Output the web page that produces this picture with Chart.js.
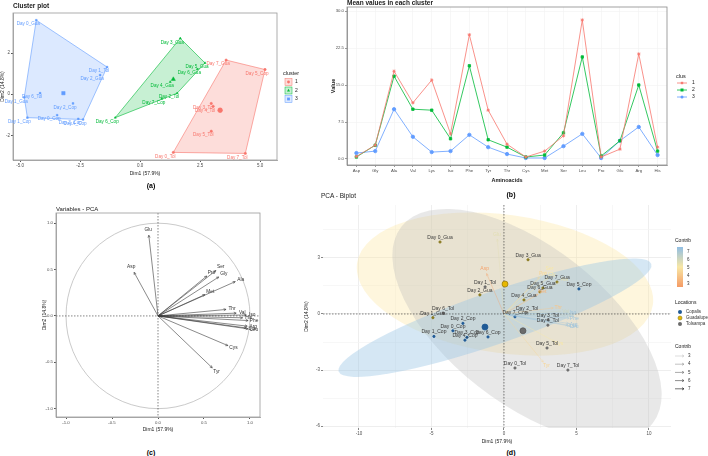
<!DOCTYPE html>
<html>
<head>
<meta charset="utf-8">
<script src="https://cdn.jsdelivr.net/npm/chart.js@4.4.1/dist/chart.umd.min.js"></script>
<style>
  html, body { margin: 0; padding: 0; background: #fff; }
  body { width: 708px; height: 456px; position: relative; overflow: hidden; font-family: "Liberation Sans", Arial, sans-serif; }
  canvas { position: absolute; }
  .t { position: absolute; white-space: nowrap; color: #1a1a1a; line-height: 1; }
  .tag { position: absolute; font-weight: bold; font-size: 7px; transform: translate(-50%, -50%); }
</style>
</head>
<body>
<canvas id="chartA" width="310" height="177" style="left:0;top:0"></canvas>
<canvas id="chartB" width="382" height="184" style="left:326px;top:0"></canvas>
<canvas id="chartC" width="229" height="228" style="left:36px;top:205px"></canvas>
<canvas id="chartD" width="408" height="245" style="left:300px;top:200px"></canvas>

<div class="t" style="left:13px;top:3px;font-size:6.5px;font-weight:bold">Cluster plot</div>
<div class="t" style="left:347px;top:0;font-size:6.5px;font-weight:bold">Mean values in each cluster</div>
<div class="t" style="left:56px;top:206px;font-size:6px">Variables - PCA</div>
<div class="t" style="left:321px;top:193px;font-size:6.5px">PCA - Biplot</div>
<div class="tag" style="left:151px;top:185px">(a)</div>
<div class="tag" style="left:511px;top:194px">(b)</div>
<div class="tag" style="left:151px;top:452px">(c)</div>
<div class="tag" style="left:511px;top:452px">(d)</div>

<script>
// ---- (a) cluster plot: individuals on Dim1/Dim2, by k-means cluster
const c1Names = ['Day 7_Gua', 'Day 5_Cop', 'Day 3_Tol', 'Day 4_Tol', 'Day 5_Tol', 'Day 0_Tol', 'Day 7_Tol'];
const c1Dim1 = [3.58, 5.20, 2.96, 3.04, 2.96, 1.38, 4.38];
const c1Dim2 = [1.66, 1.20, -0.45, -0.59, -1.80, -2.83, -2.88];
const c2Names = ['Day 3_Gua', 'Day 5_Gua', 'Day 6_Gua', 'Day 4_Gua', 'Day 2_Tol', 'Day 7_Cop', 'Day 6_Cop'];
const c2Dim1 = [1.67, 2.70, 2.38, 1.25, 1.54, 0.90, -1.04];
const c2Dim2 = [2.72, 1.52, 1.22, 0.60, 0.05, -0.22, -1.14];
const c3Names = ['Day 0_Gua', 'Day 1_Tol', 'Day 2_Gua', 'Day 6_Tol', 'Day 1_Gua', 'Day 2_Cop', 'Day 0_Cop', 'Day 3_Cop', 'Day 1_Cop', 'Day 4_Cop'];
const c3Dim1 = [-4.33, -1.38, -1.67, -4.17, -4.83, -2.80, -3.46, -2.58, -4.70, -2.38];
const c3Dim2 = [3.60, 1.32, 0.93, 0.05, -0.15, -0.45, -1.02, -1.20, -1.14, -1.23];
const clusterCenterDim1 = [3.33, 1.38, -3.20];
const clusterCenterDim2 = [-0.78, 0.73, 0.05];

// ---- (b) mean values per cluster
const aminoAcids = ['Asp', 'Gly', 'Ala', 'Val', 'Lys', 'Iso', 'Phe', 'Tyr', 'Thr', 'Cys', 'Met', 'Ser', 'Leu', 'Pro', 'Glu', 'Arg', 'His'];
const clus1Means = [0.5, 2.8, 17.8, 11.4, 16.0, 5.1, 25.2, 9.9, 3.0, 0.4, 1.6, 4.7, 28.2, 0.4, 2.0, 21.3, 2.4];
const clus2Means = [0.4, 2.8, 16.8, 10.1, 9.9, 4.1, 18.9, 3.9, 2.4, 0.4, 0.8, 5.3, 20.7, 0.6, 3.7, 15.0, 1.6];
const clus3Means = [1.2, 1.6, 10.1, 4.5, 1.4, 1.6, 4.9, 2.4, 1.0, 0.2, 0.2, 2.6, 5.1, 0.2, 3.7, 6.5, 0.8];

// ---- (c) variable loadings
const pcaVars = ['Glu', 'Asp', 'Ser', 'Pro', 'Gly', 'Ala', 'Met', 'Thr', 'Val', 'Iso', 'His', 'Phe', 'Arg', 'Lys', 'Leu', 'Cys', 'Tyr'];
const loadDim1 = [-0.10, -0.26, 0.63, 0.53, 0.66, 0.84, 0.51, 0.74, 0.85, 0.96, 0.92, 0.98, 0.97, 0.96, 0.98, 0.76, 0.59];
const loadDim2 = [0.87, 0.47, 0.49, 0.43, 0.42, 0.37, 0.23, 0.07, 0.03, 0.01, -0.02, -0.05, -0.11, -0.13, -0.14, -0.32, -0.56];
const varContrib = [5.5, 3, 5, 4.5, 5, 5.5, 3.5, 4, 6, 7, 6.5, 7, 7, 7, 7, 5, 4.5];

// ---- (d) biplot individuals by location
const copNames = ['Day 0_Cop', 'Day 1_Cop', 'Day 2_Cop', 'Day 3_Cop', 'Day 4_Cop', 'Day 5_Cop', 'Day 6_Cop', 'Day 7_Cop'];
const copDim1 = [-3.52, -4.83, -2.83, -2.55, -2.69, 5.17, -1.10, 0.76];
const copDim2 = [-0.90, -1.20, -0.50, -1.25, -1.40, 1.34, -1.23, -0.15];
const guaNames = ['Day 0_Gua', 'Day 1_Gua', 'Day 2_Gua', 'Day 3_Gua', 'Day 4_Gua', 'Day 5_Gua', 'Day 6_Gua', 'Day 7_Gua'];
const guaDim1 = [-4.41, -4.90, -1.66, 1.66, 1.38, 2.69, 2.48, 3.66];
const guaDim2 = [3.85, -0.20, 1.02, 2.90, 0.75, 1.39, 1.18, 1.71];
const tolNames = ['Day 0_Tol', 'Day 1_Tol', 'Day 2_Tol', 'Day 3_Tol', 'Day 4_Tol', 'Day 5_Tol', 'Day 6_Tol', 'Day 7_Tol'];
const tolDim1 = [0.76, -1.30, 1.59, 3.03, 3.03, 2.97, -4.20, 4.41];
const tolDim2 = [-2.89, 1.45, 0.05, -0.32, -0.60, -1.82, 0.05, -3.00];
const locations = ['Copalis', 'Guadalupe', 'Tolsampa'];
const locationDim1 = [-1.31, 0.07, 1.31];
const locationDim2 = [-0.70, 1.60, -0.90];
// concentration ellipses: centre, semi axes (data units), tilt on screen (deg)
const ellipseDim1 = [0.07, 1.59, -0.62];
const ellipseDim2 = [1.60, -0.59, -0.20];
const ellipseA = [10.3, 11.0, 11.4];
const ellipseB = [3.7, 4.2, 1.4];
const ellipseTilt = [8, 38, -19];
const contribTicks = [7, 6, 5, 4, 3];

const FONT = '"Liberation Sans", Arial, sans-serif';
Chart.defaults.font.family = FONT;
Chart.defaults.color = '#4d4d4d';

const clusterColors = ['#F8766D', '#00BA38', '#619CFF'];
const clusterFills = ['rgba(248,118,109,0.25)', 'rgba(0,186,56,0.22)', 'rgba(97,156,255,0.22)'];
const locColors = ['#1F5A96', '#E7B800', '#6B6B6B'];
const ellipseFills = ['rgba(253,232,165,0.38)', 'rgba(185,185,185,0.32)', 'rgba(155,198,228,0.42)'];

const pts = (xs, ys) => xs.map((x, i) => ({ x: x, y: ys[i] }));
const filterTicks = s => { s.ticks = s.ticks.filter(t => t.value >= s.min - 1e-9 && t.value <= s.max + 1e-9); };

function convexHull(list) {
  const p = list.slice().sort((a, b) => a.x - b.x || a.y - b.y);
  const cross = (o, a, b) => (a.x - o.x) * (b.y - o.y) - (a.y - o.y) * (b.x - o.x);
  const lower = [], upper = [];
  for (const q of p) {
    while (lower.length >= 2 && cross(lower[lower.length - 2], lower[lower.length - 1], q) <= 0) lower.pop();
    lower.push(q);
  }
  for (let i = p.length - 1; i >= 0; i--) {
    const q = p[i];
    while (upper.length >= 2 && cross(upper[upper.length - 2], upper[upper.length - 1], q) <= 0) upper.pop();
    upper.push(q);
  }
  upper.pop(); lower.pop();
  return lower.concat(upper);
}

function drawMark(ctx, shape, x, y, r, color) {
  ctx.save();
  ctx.fillStyle = color; ctx.strokeStyle = color; ctx.lineWidth = 0.8;
  ctx.beginPath();
  if (shape === 'circle') { ctx.arc(x, y, r, 0, Math.PI * 2); ctx.fill(); }
  else if (shape === 'triangle') { ctx.moveTo(x, y - r * 1.2); ctx.lineTo(x + r * 1.1, y + r * 0.8); ctx.lineTo(x - r * 1.1, y + r * 0.8); ctx.closePath(); ctx.fill(); }
  else if (shape === 'rect') { ctx.rect(x - r, y - r, r * 2, r * 2); ctx.fill(); }
  else if (shape === 'star') {
    ctx.moveTo(x - r, y); ctx.lineTo(x + r, y); ctx.moveTo(x, y - r); ctx.lineTo(x, y + r);
    ctx.moveTo(x - r * 0.7, y - r * 0.7); ctx.lineTo(x + r * 0.7, y + r * 0.7);
    ctx.moveTo(x - r * 0.7, y + r * 0.7); ctx.lineTo(x + r * 0.7, y - r * 0.7); ctx.stroke();
  }
  ctx.restore();
}

function mix(c1, c2, t) {
  const a = [1, 3, 5].map(i => parseInt(c1.substr(i, 2), 16));
  const b = [1, 3, 5].map(i => parseInt(c2.substr(i, 2), 16));
  return 'rgb(' + a.map((v, i) => Math.round(v + (b[i] - v) * t)).join(',') + ')';
}
function contribColor(c) {
  return c <= 5 ? mix('#F5A26B', '#F8E7A5', (c - 3) / 2) : mix('#F8E7A5', '#9EC3DB', (c - 5) / 2);
}

// ---- shared plugins
const hullPlugin = {
  id: 'hulls',
  beforeDatasetsDraw(chart) {
    const ctx = chart.ctx;
    chart.data.datasets.forEach((ds, i) => {
      if (!ds.hullFill) return;
      const h = convexHull(chart.getDatasetMeta(i).data.map(e => ({ x: e.x, y: e.y })));
      ctx.save();
      ctx.beginPath();
      h.forEach((q, k) => k ? ctx.lineTo(q.x, q.y) : ctx.moveTo(q.x, q.y));
      ctx.closePath();
      ctx.fillStyle = ds.hullFill; ctx.fill();
      ctx.strokeStyle = ds.borderColor; ctx.lineWidth = 0.6; ctx.stroke();
      ctx.restore();
    });
  }
};

const namePlugin = {
  id: 'names',
  afterDatasetsDraw(chart, args, opts) {
    const ctx = chart.ctx;
    chart.data.datasets.forEach((ds, i) => {
      if (!ds.names) return;
      ctx.save();
      ctx.font = opts.size + 'px ' + FONT;
      ctx.textAlign = 'center'; ctx.textBaseline = 'middle';
      chart.getDatasetMeta(i).data.forEach((e, k) => {
        ctx.fillStyle = ds.nameColors ? ds.nameColors[k] : (ds.nameColor || ds.borderColor);
        if (ds.radial) {
          const ox = chart.scales.x.getPixelForValue(0), oy = chart.scales.y.getPixelForValue(0);
          const dx = e.x - ox, dy = e.y - oy, len = Math.hypot(dx, dy) || 1;
          ctx.fillText(ds.names[k], e.x + dx / len * opts.gap, e.y + dy / len * opts.gap);
        } else {
          ctx.fillText(ds.names[k], e.x + opts.dx, e.y + opts.dy);
        }
      });
      ctx.restore();
    });
  }
};

const framePlugin = {
  id: 'frame',
  beforeDatasetsDraw(chart, args, opts) {
    if (!opts.color) return;
    const a = chart.chartArea, ctx = chart.ctx;
    ctx.save(); ctx.strokeStyle = opts.color; ctx.lineWidth = 0.8;
    ctx.strokeRect(a.left, a.top, a.right - a.left, a.bottom - a.top);
    ctx.restore();
  }
};

const zeroPlugin = {
  id: 'zeroLines',
  beforeDatasetsDraw(chart, args, opts) {
    if (!opts.color) return;
    const a = chart.chartArea, ctx = chart.ctx;
    const x0 = chart.scales.x.getPixelForValue(0), y0 = chart.scales.y.getPixelForValue(0);
    ctx.save(); ctx.strokeStyle = opts.color; ctx.lineWidth = 0.6; ctx.setLineDash([1.5, 1.5]);
    ctx.beginPath(); ctx.moveTo(x0, a.top); ctx.lineTo(x0, a.bottom);
    ctx.moveTo(a.left, y0); ctx.lineTo(a.right, y0); ctx.stroke();
    ctx.restore();
  }
};

const arrowPlugin = {
  id: 'arrows',
  afterDatasetsDraw(chart) {
    const ctx = chart.ctx;
    const ox = chart.scales.x.getPixelForValue(0), oy = chart.scales.y.getPixelForValue(0);
    chart.data.datasets.forEach((ds, i) => {
      if (!ds.arrowColors) return;
      chart.getDatasetMeta(i).data.forEach((e, k) => {
        const ang = Math.atan2(e.y - oy, e.x - ox), h = 2.6;
        ctx.save();
        ctx.globalAlpha = ds.arrowAlpha || 1;
        ctx.strokeStyle = ds.arrowColors[k]; ctx.lineWidth = ds.arrowWidth || 0.6;
        ctx.beginPath(); ctx.moveTo(ox, oy); ctx.lineTo(e.x, e.y);
        ctx.moveTo(e.x - h * Math.cos(ang - 0.45), e.y - h * Math.sin(ang - 0.45));
        ctx.lineTo(e.x, e.y);
        ctx.lineTo(e.x - h * Math.cos(ang + 0.45), e.y - h * Math.sin(ang + 0.45));
        ctx.stroke();
        ctx.restore();
      });
    });
  }
};

// ---- (a)
const clusterShapes = ['circle', 'triangle', 'rect'];
const clusterNames = [c1Names, c2Names, c3Names];
const clusterPts = [pts(c1Dim1, c1Dim2), pts(c2Dim1, c2Dim2), pts(c3Dim1, c3Dim2)];

const legendA = {
  id: 'legendA',
  afterDraw(chart) {
    const ctx = chart.ctx;
    ctx.save();
    ctx.font = '5.5px ' + FONT; ctx.fillStyle = '#1a1a1a'; ctx.textBaseline = 'middle';
    ctx.fillText('cluster', 283, 73);
    clusterColors.forEach((c, i) => {
      const y = 82 + i * 8.5;
      ctx.fillStyle = clusterFills[i]; ctx.fillRect(285, y - 3.5, 7, 7);
      ctx.strokeStyle = c; ctx.lineWidth = 0.5; ctx.strokeRect(285, y - 3.5, 7, 7);
      drawMark(ctx, clusterShapes[i], 288.5, y, 1.4, c);
      ctx.fillStyle = '#1a1a1a'; ctx.font = '5px ' + FONT; ctx.fillText(String(i + 1), 295, y);
    });
    ctx.restore();
  }
};

new Chart(document.getElementById('chartA'), {
  type: 'scatter',
  data: {
    datasets: [
      ...clusterPts.map((p, i) => ({
        data: p, names: clusterNames[i], hullFill: clusterFills[i],
        pointStyle: clusterShapes[i], pointRadius: 1.2, backgroundColor: clusterColors[i], borderColor: clusterColors[i], borderWidth: 0.5
      })),
      ...clusterColors.map((c, i) => ({
        data: [{ x: clusterCenterDim1[i], y: clusterCenterDim2[i] }],
        pointStyle: clusterShapes[i], pointRadius: 2.4, backgroundColor: c, borderColor: c, borderWidth: 0.5
      }))
    ]
  },
  options: {
    responsive: false, animation: false,
    layout: { padding: { top: 13, right: 33, left: 0, bottom: 0 } },
    plugins: {
      legend: { display: false }, tooltip: { enabled: false },
      names: { size: 4.6, dx: -8, dy: 4 }, frame: { color: '#9a9a9a' }
    },
    scales: {
      x: {
        type: 'linear', min: -5.3, max: 5.7, afterBuildTicks: filterTicks, afterFit: s => { s.height = 17; },
        ticks: { stepSize: 2.5, includeBounds: false, maxRotation: 0, font: { size: 4.5 }, padding: 1, callback: v => v.toFixed(1) },
        grid: { drawOnChartArea: false, tickLength: 2, tickColor: '#555' },
        border: { color: '#9a9a9a', width: 0.8 },
        title: { display: true, text: 'Dim1 (57.9%)', color: '#1a1a1a', font: { size: 5 }, padding: { top: 1, bottom: 0 } }
      },
      y: {
        type: 'linear', min: -3.2, max: 3.95, afterBuildTicks: filterTicks, afterFit: s => { s.width = 13; },
        ticks: { stepSize: 2, includeBounds: false, font: { size: 4.5 }, padding: 1 },
        grid: { drawOnChartArea: false, tickLength: 2, tickColor: '#555' },
        border: { color: '#9a9a9a', width: 0.8 },
        title: { display: true, text: 'Dim2 (14.8%)', color: '#1a1a1a', font: { size: 5 }, padding: 0 }
      }
    }
  },
  plugins: [hullPlugin, framePlugin, namePlugin, legendA]
});

// ---- (b)
const meanSeries = [clus1Means, clus2Means, clus3Means];
const clusMarks = ['star', 'rect', 'circle'];
const legendB = {
  id: 'legendB',
  afterDraw(chart) {
    const ctx = chart.ctx;
    ctx.save();
    ctx.font = '5.5px ' + FONT; ctx.fillStyle = '#1a1a1a'; ctx.textBaseline = 'middle';
    ctx.fillText('clus', 350, 76);
    clusterColors.forEach((c, i) => {
      const y = 83 + i * 7;
      ctx.strokeStyle = c; ctx.lineWidth = 0.8;
      ctx.beginPath(); ctx.moveTo(351, y); ctx.lineTo(361, y); ctx.stroke();
      drawMark(ctx, clusMarks[i], 356, y, 1.5, c);
      ctx.fillStyle = '#1a1a1a'; ctx.font = '5px ' + FONT; ctx.fillText(String(i + 1), 366, y);
    });
    ctx.restore();
  }
};

new Chart(document.getElementById('chartB'), {
  type: 'line',
  data: {
    labels: aminoAcids,
    datasets: meanSeries.map((s, i) => ({
      label: String(i + 1), data: s, borderColor: clusterColors[i], backgroundColor: clusterColors[i],
      borderWidth: 0.8, pointStyle: clusMarks[i], pointRadius: 1.7, pointBorderWidth: 0.8, tension: 0
    }))
  },
  options: {
    responsive: false, animation: false,
    layout: { padding: { top: 7, right: 41, left: 4, bottom: 0 } },
    plugins: { legend: { display: false }, tooltip: { enabled: false }, frame: { color: '#8a8a8a' } },
    scales: {
      x: {
        type: 'category', offset: true, afterFit: s => { s.height = 19; },
        ticks: { autoSkip: false, maxRotation: 0, font: { size: 4.3 }, padding: 1 },
        grid: { color: '#f1f1f1', lineWidth: 0.6, tickLength: 2, tickColor: '#555', offset: false },
        border: { color: '#8a8a8a', width: 0.8 },
        title: { display: true, text: 'Aminoacids', color: '#1a1a1a', font: { size: 5.5, weight: 'bold' }, padding: { top: 1, bottom: 0 } }
      },
      y: {
        type: 'linear', min: -1.22, max: 30.83, afterBuildTicks: filterTicks, afterFit: s => { s.width = 17; },
        ticks: { stepSize: 7.5, includeBounds: false, font: { size: 4.3 }, padding: 1, callback: v => v.toFixed(1) },
        grid: { color: '#f1f1f1', lineWidth: 0.6, tickLength: 2, tickColor: '#555' },
        border: { color: '#8a8a8a', width: 0.8 },
        title: { display: true, text: 'Value', color: '#1a1a1a', font: { size: 5.5, weight: 'bold' }, padding: 0 }
      }
    }
  },
  plugins: [framePlugin, legendB]
});

// ---- (c)
const unitCircle = {
  id: 'unitCircle',
  beforeDatasetsDraw(chart) {
    const x = chart.scales.x, y = chart.scales.y, ctx = chart.ctx;
    const cx = x.getPixelForValue(0), cy = y.getPixelForValue(0);
    ctx.save(); ctx.strokeStyle = '#bdbdbd'; ctx.lineWidth = 0.8;
    ctx.beginPath(); ctx.ellipse(cx, cy, x.getPixelForValue(1) - cx, cy - y.getPixelForValue(1), 0, 0, Math.PI * 2); ctx.stroke();
    ctx.restore();
  }
};

new Chart(document.getElementById('chartC'), {
  type: 'scatter',
  data: {
    datasets: [{
      data: pts(loadDim1, loadDim2), names: pcaVars, radial: true, nameColor: '#333',
      arrowColors: pcaVars.map(() => '#3a3a3a'), arrowWidth: 0.6, pointRadius: 0
    }]
  },
  options: {
    responsive: false, animation: false,
    layout: { padding: { top: 8, right: 5, left: 6, bottom: 0 } },
    plugins: {
      legend: { display: false }, tooltip: { enabled: false },
      names: { size: 4.8, gap: 6 }, frame: { color: '#9a9a9a' }, zeroLines: { color: '#333' }
    },
    scales: {
      x: {
        type: 'linear', min: -1.109, max: 1.109, afterBuildTicks: filterTicks, afterFit: s => { s.height = 16; },
        ticks: { stepSize: 0.5, includeBounds: false, maxRotation: 0, font: { size: 4.3 }, padding: 1, callback: v => v.toFixed(1) },
        grid: { drawOnChartArea: false, tickLength: 2, tickColor: '#555' },
        border: { color: '#9a9a9a', width: 0.8 },
        title: { display: true, text: 'Dim1 (57.9%)', color: '#1a1a1a', font: { size: 5 }, padding: { top: 1, bottom: 0 } }
      },
      y: {
        type: 'linear', min: -1.09, max: 1.11, afterBuildTicks: filterTicks, afterFit: s => { s.width = 14; },
        ticks: { stepSize: 0.5, includeBounds: false, font: { size: 4.3 }, padding: 1, callback: v => v.toFixed(1) },
        grid: { drawOnChartArea: false, tickLength: 2, tickColor: '#555' },
        border: { color: '#9a9a9a', width: 0.8 },
        title: { display: true, text: 'Dim2 (14.8%)', color: '#1a1a1a', font: { size: 5 }, padding: 0 }
      }
    }
  },
  plugins: [unitCircle, zeroPlugin, framePlugin, arrowPlugin, namePlugin]
});

// ---- (d)
const ellipsePlugin = {
  id: 'ellipses',
  beforeDatasetsDraw(chart) {
    const x = chart.scales.x, y = chart.scales.y, ctx = chart.ctx;
    const ux = x.getPixelForValue(1) - x.getPixelForValue(0);
    const uy = y.getPixelForValue(0) - y.getPixelForValue(1);
    ctx.save();
    ctx.beginPath(); ctx.rect(chart.chartArea.left, chart.chartArea.top, chart.chartArea.width, chart.chartArea.height); ctx.clip();
    ellipseDim1.forEach((cx, i) => {
      ctx.beginPath();
      ctx.ellipse(x.getPixelForValue(cx), y.getPixelForValue(ellipseDim2[i]), ellipseA[i] * ux, ellipseB[i] * uy, ellipseTilt[i] * Math.PI / 180, 0, Math.PI * 2);
      ctx.fillStyle = ellipseFills[i]; ctx.fill();
    });
    ctx.restore();
  }
};

const biplotScale = 4.6;
const legendD = {
  id: 'legendD',
  afterDraw(chart) {
    const ctx = chart.ctx;
    ctx.save();
    ctx.textBaseline = 'middle';
    ctx.font = '5px ' + FONT; ctx.fillStyle = '#1a1a1a';
    ctx.fillText('Contrib', 375, 41);
    const g = ctx.createLinearGradient(0, 47, 0, 87);
    g.addColorStop(0, contribColor(7.3)); g.addColorStop(0.5, contribColor(5)); g.addColorStop(1, contribColor(2.8));
    ctx.fillStyle = g; ctx.fillRect(377, 47, 6, 40);
    ctx.font = '4.5px ' + FONT; ctx.fillStyle = '#333';
    contribTicks.forEach((v, i) => ctx.fillText(String(v), 387, 52 + i * 8));
    ctx.font = '5px ' + FONT; ctx.fillStyle = '#1a1a1a';
    ctx.fillText('Locations', 375, 103);
    locations.forEach((name, i) => {
      const y = 112 + i * 6;
      ctx.beginPath(); ctx.arc(380, y, 2, 0, Math.PI * 2);
      ctx.fillStyle = locColors[i]; ctx.fill();
      if (i === 1) { ctx.strokeStyle = '#8a7a20'; ctx.lineWidth = 0.6; ctx.stroke(); }
      ctx.fillStyle = '#333'; ctx.font = '4.5px ' + FONT; ctx.fillText(name, 386, y);
    });
    ctx.font = '5px ' + FONT; ctx.fillStyle = '#1a1a1a';
    ctx.fillText('Contrib', 375, 147);
    contribTicks.slice().reverse().forEach((v, i) => {
      const y = 156 + i * 8.2, shade = Math.round(200 - (v - 3) * 45);
      ctx.strokeStyle = 'rgb(' + shade + ',' + shade + ',' + shade + ')'; ctx.lineWidth = 0.6;
      ctx.beginPath(); ctx.moveTo(375, y); ctx.lineTo(384, y); ctx.moveTo(382, y - 1.2); ctx.lineTo(384, y); ctx.lineTo(382, y + 1.2); ctx.stroke();
      ctx.fillStyle = '#333'; ctx.font = '4.5px ' + FONT; ctx.fillText(String(v), 388, y);
    });
    ctx.restore();
  }
};

const majorOf = step => c => (Math.abs(c.tick.value / step - Math.round(c.tick.value / step)) < 1e-6);
const isMajorX = majorOf(5), isMajorY = majorOf(3);

new Chart(document.getElementById('chartD'), {
  type: 'scatter',
  data: {
    datasets: [
      {
        data: pts(loadDim1.map(v => v * biplotScale), loadDim2.map(v => v * biplotScale)),
        names: pcaVars, radial: true, nameColors: varContrib.map(contribColor), pointRadius: 0,
        arrowColors: varContrib.map(contribColor), arrowAlpha: 0.55, arrowWidth: 0.7
      },
      { data: pts(copDim1, copDim2), names: copNames, nameColor: '#3a3a3a', pointRadius: 1.1, backgroundColor: locColors[0], borderColor: locColors[0] },
      { data: pts(guaDim1, guaDim2), names: guaNames, nameColor: '#3a3a3a', pointRadius: 1.1, backgroundColor: '#8a7a20', borderColor: '#8a7a20' },
      { data: pts(tolDim1, tolDim2), names: tolNames, nameColor: '#3a3a3a', pointRadius: 1.1, backgroundColor: locColors[2], borderColor: locColors[2] },
      {
        data: pts(locationDim1, locationDim2), pointRadius: 3, borderWidth: 0.8,
        backgroundColor: locColors, borderColor: ['#1F5A96', '#9a7d10', '#555']
      }
    ]
  },
  options: {
    responsive: false, animation: false,
    layout: { padding: { top: 5, right: 37, left: 4, bottom: 0 } },
    plugins: {
      legend: { display: false }, tooltip: { enabled: false },
      names: { size: 5, dx: 0, dy: -4.5, gap: 5 }, zeroLines: { color: '#333' }
    },
    scales: {
      x: {
        type: 'linear', min: -12.48, max: 11.52, afterBuildTicks: filterTicks, afterFit: s => { s.height = 17; },
        ticks: { stepSize: 2.5, includeBounds: false, maxRotation: 0, font: { size: 4.5 }, padding: 1, callback: v => (v % 5 === 0 ? String(v) : '') },
        grid: { color: c => isMajorX(c) ? '#e6e6e6' : '#f4f4f4', lineWidth: 0.7, tickLength: 2, tickColor: c => isMajorX(c) ? '#555' : 'rgba(0,0,0,0)' },
        border: { display: false },
        title: { display: true, text: 'Dim1 (57.9%)', color: '#1a1a1a', font: { size: 5 }, padding: { top: 1, bottom: 0 } }
      },
      y: {
        type: 'linear', min: -6.1, max: 5.83, afterBuildTicks: filterTicks, afterFit: s => { s.width = 19; },
        ticks: { stepSize: 1.5, includeBounds: false, font: { size: 4.5 }, padding: 1, callback: v => (v % 3 === 0 ? String(v) : '') },
        grid: { color: c => isMajorY(c) ? '#e6e6e6' : '#f4f4f4', lineWidth: 0.7, tickLength: 2, tickColor: c => isMajorY(c) ? '#555' : 'rgba(0,0,0,0)' },
        border: { display: false },
        title: { display: true, text: 'Dim2 (14.8%)', color: '#1a1a1a', font: { size: 5 }, padding: 0 }
      }
    }
  },
  plugins: [ellipsePlugin, zeroPlugin, arrowPlugin, namePlugin, legendD]
});
</script>
</body>
</html>
